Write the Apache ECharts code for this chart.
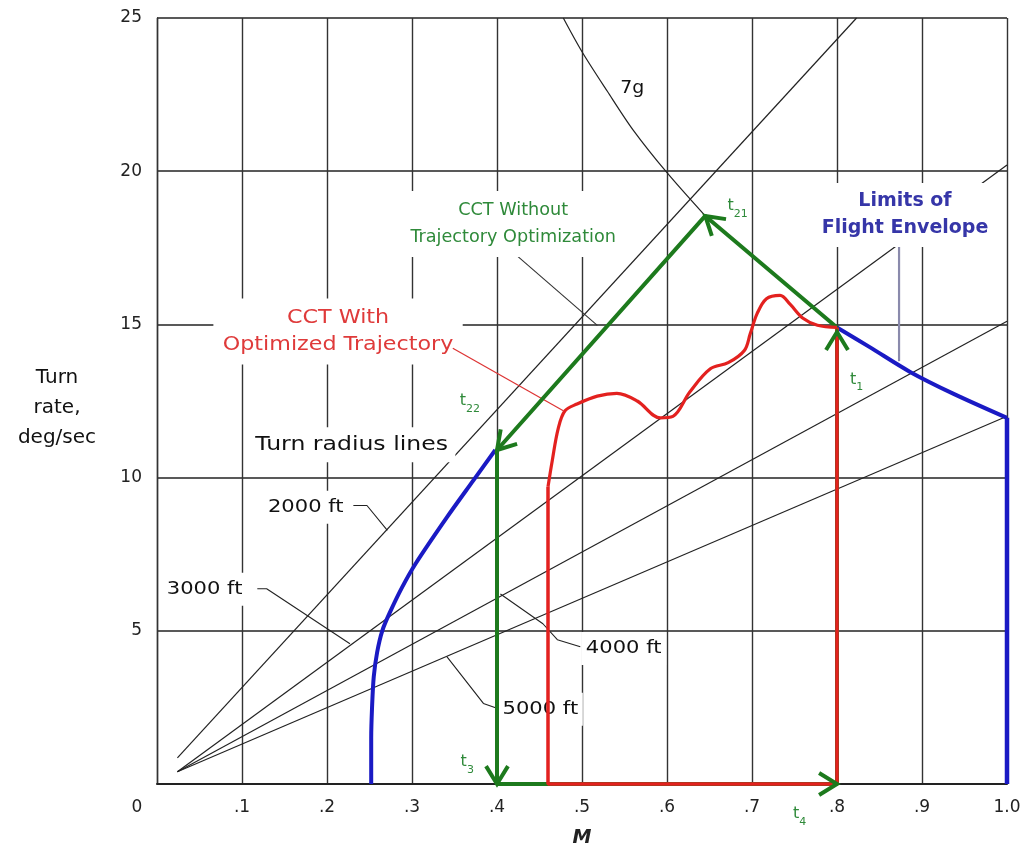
<!DOCTYPE html>
<html><head><meta charset="utf-8">
<script src="https://cdn.jsdelivr.net/npm/echarts@6/dist/echarts.min.js"></script>
<style>html,body{margin:0;padding:0;background:#fff}#c{width:1028px;height:853px}</style>
</head><body><div id="c"></div>
<script>
// ---- tick labels ----
const xTickLabels = ['0', '.1', '.2', '.3', '.4', '.5', '.6', '.7', '.8', '.9', '1.0'];
const yTickLabels = ['', '5', '10', '15', '20', '25'];

// ---- turn radius lines (M, deg/sec) ----
const radius2000 = [[0.024, 0.85], [0.823, 25]];
const radius3000 = [[0.024, 0.4], [1.0, 20.2]];
const radius4000 = [[0.024, 0.4], [1.0, 15.1]];
const radius5000 = [[0.024, 0.4], [1.0, 12.0]];

// ---- 7g load factor curve ----
const sevenG = [[0.478, 25], [0.50, 23.9], [0.53, 22.6], [0.56, 21.35], [0.60, 19.95], [0.645, 18.54]];

// ---- limits of flight envelope ----
const envelopeLeft = [[0.252, 0], [0.252, 1.5], [0.253, 2.5], [0.255, 3.5], [0.259, 4.3], [0.265, 5.0],
  [0.274, 5.6], [0.288, 6.4], [0.304, 7.18], [0.341, 8.7], [0.372, 9.9], [0.398, 10.9]];
const envelopeRight = [[0.8, 14.9], [0.839, 14.25], [0.886, 13.45], [0.936, 12.75], [1.0, 11.95]];
const envelopeRightEdge = [[1.0, 11.95], [1.0, 0]];

// ---- CCT without trajectory optimization (t1 -> t21 -> t22 -> t3 -> t4 -> t1) ----
const cctWithout = [[0.8, 14.9], [0.645, 18.54], [0.4, 10.9], [0.4, 0], [0.8, 0], [0.8, 14.9]];

// ---- CCT with optimized trajectory ----
const cctWithFrame = [[0.46, 9.7], [0.46, 0], [0.8, 0], [0.8, 14.9]];
const cctWithWave = [[0.46, 9.7], [0.465, 10.55], [0.472, 11.6], [0.48, 12.18], [0.494, 12.4], [0.518, 12.66],
  [0.541, 12.75], [0.565, 12.5], [0.592, 11.95], [0.607, 12.0], [0.627, 12.8], [0.651, 13.55], [0.672, 13.75],
  [0.691, 14.15], [0.698, 14.7], [0.706, 15.35], [0.717, 15.84], [0.733, 15.95], [0.745, 15.65], [0.76, 15.2],
  [0.777, 14.97], [0.8, 14.9]];

// ---- arrowheads: [tipM, tipRate, fromM, fromRate] ----
const arrows = [[0.645, 18.54, 0.8, 14.9], [0.4, 10.9, 0.645, 18.54], [0.4, 0, 0.4, 10.9],
  [0.8, 0, 0.4, 0], [0.8, 14.75, 0.8, 0]];

// ---- leader lines ----
const leader2000 = [[0.231, 9.09], [0.247, 9.09], [0.271, 8.28]];
const leader3000 = [[0.118, 6.37], [0.129, 6.37], [0.227, 4.58]];
const leader4000 = [[0.404, 6.2], [0.454, 5.23], [0.471, 4.71], [0.498, 4.48]];
const leader5000 = [[0.341, 4.16], [0.384, 2.63], [0.4, 2.47]];
const leaderWithout = [[0.421, 17.3], [0.518, 14.97]];
const leaderWith = [[0.348, 14.22], [0.478, 12.18]];
const leaderEnvelope = [[0.873, 17.56], [0.873, 13.8]];

// ---- annotation texts: [key, text, M, rate] ----
const annotations = [
  ['radius', 'Turn radius lines', 0.229, 11.07],
  ['ft', '2000 ft', 0.175, 9.03],
  ['ft', '3000 ft', 0.056, 6.36],
  ['ft', '4000 ft', 0.549, 4.42],
  ['ft', '5000 ft', 0.451, 2.44],
  ['g', '7g', 0.559, 22.7],
  ['red', 'CCT With\nOptimized Trajectory', 0.213, 14.77],
  ['green', 'CCT Without\nTrajectory Optimization', 0.419, 18.28],
  ['blue', 'Limits of\nFlight Envelope', 0.88, 18.57],
  ['t', '{t|t}{s|21}', 0.683, 18.86],
  ['t', '{t|t}{s|22}', 0.368, 12.5],
  ['t', '{t|t}{s|3}', 0.365, 0.71],
  ['t', '{t|t}{s|4}', 0.756, -0.97],
  ['t', '{t|t}{s|1}', 0.823, 13.2]
];

const GREEN = '#1d7a1d', RED = '#e3211f', BLUE = '#1a1ac4';
const FONT = '"DejaVu Sans", "Liberation Sans", Arial, sans-serif';

function lineSeries(data, color, width, z, extra) {
  return Object.assign({
    type: 'line', data: data, z: z, symbol: 'none', silent: true, animation: false,
    lineStyle: { color: color, width: width }, clip: false
  }, extra || {});
}

const textStyles = {
  radius: { fill: '#111', size: 19, pad: [4, 6], sx: 1.24 },
  ft: { fill: '#111', size: 18, pad: [3, 4], sx: 1.17 },
  g: { fill: '#111', size: 18, pad: null, sx: 1.05 },
  red: { fill: '#df3a3a', size: 19, pad: [6, 8], sx: 1.17 },
  green: { fill: '#2f8a3a', size: 18, pad: [6, 6], sx: 0.98 },
  blue: { fill: '#3636a8', size: 19, pad: [5, 6], sx: 1.0, weight: 'bold' },
  t: { fill: '#2f8a3a', size: 16, pad: null, sx: 1.0 }
};

const chart = echarts.init(document.getElementById('c'), null, { renderer: 'canvas' });
const option = {
  backgroundColor: '#fff',
  animation: false,
  grid: { left: 157, right: 21, top: 18, bottom: 65, containLabel: false },
  xAxis: {
    type: 'value', min: 0, max: 1, interval: 0.1,
    name: 'M', nameLocation: 'middle', nameGap: 45,
    nameTextStyle: { fontFamily: FONT, fontSize: 19, fontStyle: 'italic', fontWeight: 'bold', color: '#222' },
    axisLine: { show: true, lineStyle: { color: '#222', width: 2 } },
    axisTick: { show: false },
    splitLine: { show: true, lineStyle: { color: '#333', width: 1.4 } },
    axisLabel: {
      margin: 15, color: '#222', fontFamily: FONT, fontSize: 17,
      formatter: function (v) {
        const i = Math.round(v * 10);
        return i === 0 ? '{o|' + xTickLabels[0] + '}' : xTickLabels[i];
      },
      rich: { o: { padding: [0, 40, 0, 0], fontFamily: FONT, fontSize: 17, color: '#222' } }
    }
  },
  yAxis: {
    type: 'value', min: 0, max: 25, interval: 5,
    name: '{n|Turn\nrate,\ndeg/sec}', nameLocation: 'middle', nameRotate: 0, nameGap: 100,
    nameTextStyle: {
      align: 'center', verticalAlign: 'middle',
      rich: { n: { fontFamily: FONT, fontSize: 20, color: '#111', lineHeight: 30, align: 'center', padding: [14, 0, 0, 0] } }
    },
    axisLine: { show: true, lineStyle: { color: '#333', width: 1.4 } },
    axisTick: { show: false },
    splitLine: { show: true, lineStyle: { color: '#222', width: 1.5 } },
    axisLabel: {
      margin: 15, color: '#222', fontFamily: FONT, fontSize: 17,
      formatter: function (v) { return yTickLabels[Math.round(v / 5)]; }
    }
  },
  series: [
    lineSeries(radius2000, '#222', 1.2, 2),
    lineSeries(radius3000, '#222', 1.2, 2),
    lineSeries(radius4000, '#222', 1.2, 2),
    lineSeries(radius5000, '#222', 1.2, 2),
    lineSeries(sevenG, '#222', 1.2, 2, { smooth: 0.3 }),
    lineSeries(leader2000, '#222', 1.1, 2),
    lineSeries(leader3000, '#222', 1.1, 2),
    lineSeries(leader4000, '#222', 1.1, 2),
    lineSeries(leader5000, '#222', 1.1, 2),
    lineSeries(leaderWithout, '#333', 1.1, 2),
    lineSeries(leaderEnvelope, '#8a8aac', 2.2, 2),
    {
      type: 'custom', z: 3, silent: true, animation: false, clip: false,
      data: annotations.map(a => [a[2], a[3]]),
      renderItem: function (params, api) {
        const a = annotations[params.dataIndex];
        const st = textStyles[a[0]];
        const p = api.coord([a[2], a[3]]);
        return {
          type: 'text', x: p[0], y: p[1], scaleX: st.sx, z2: 10,
          style: {
            text: a[1], fill: st.fill, align: 'center', verticalAlign: 'middle',
            font: (st.weight || 'normal') + ' ' + st.size + 'px ' + FONT,
            lineHeight: 27,
            backgroundColor: st.pad ? '#fff' : 'transparent', padding: st.pad || 0,
            rich: {
              t: { fill: st.fill, font: st.size + 'px ' + FONT },
              s: { fill: st.fill, font: Math.round(st.size * 0.7) + 'px ' + FONT, verticalAlign: 'bottom', padding: [9, 0, 0, 0] }
            }
          }
        };
      }
    },
    lineSeries(leaderWith, '#d33', 1.2, 4),
    lineSeries(envelopeLeft, BLUE, 4, 5, { smooth: 0.3 }),
    lineSeries(envelopeRight, BLUE, 4, 5, { smooth: 0.3 }),
    lineSeries(envelopeRightEdge, BLUE, 4.5, 5),
    lineSeries(cctWithout, GREEN, 4, 5),
    lineSeries(cctWithFrame, RED, 3.5, 6),
    lineSeries(cctWithWave, RED, 3.2, 6, { smooth: 0.35 }),
    {
      type: 'custom', z: 7, silent: true, animation: false, clip: false,
      data: arrows,
      renderItem: function (params, api) {
        const tip = api.coord([api.value(0), api.value(1)]);
        const from = api.coord([api.value(2), api.value(3)]);
        const ang = Math.atan2(tip[1] - from[1], tip[0] - from[0]);
        const L = 21, h = 0.55;
        const w1 = [tip[0] - L * Math.cos(ang - h), tip[1] - L * Math.sin(ang - h)];
        const w2 = [tip[0] - L * Math.cos(ang + h), tip[1] - L * Math.sin(ang + h)];
        return {
          type: 'polyline',
          shape: { points: [w1, tip, w2] },
          style: { stroke: GREEN, lineWidth: 4, fill: null, lineJoin: 'miter' }
        };
      }
    }
  ]
};
chart.setOption(option);
</script>
</body></html>
